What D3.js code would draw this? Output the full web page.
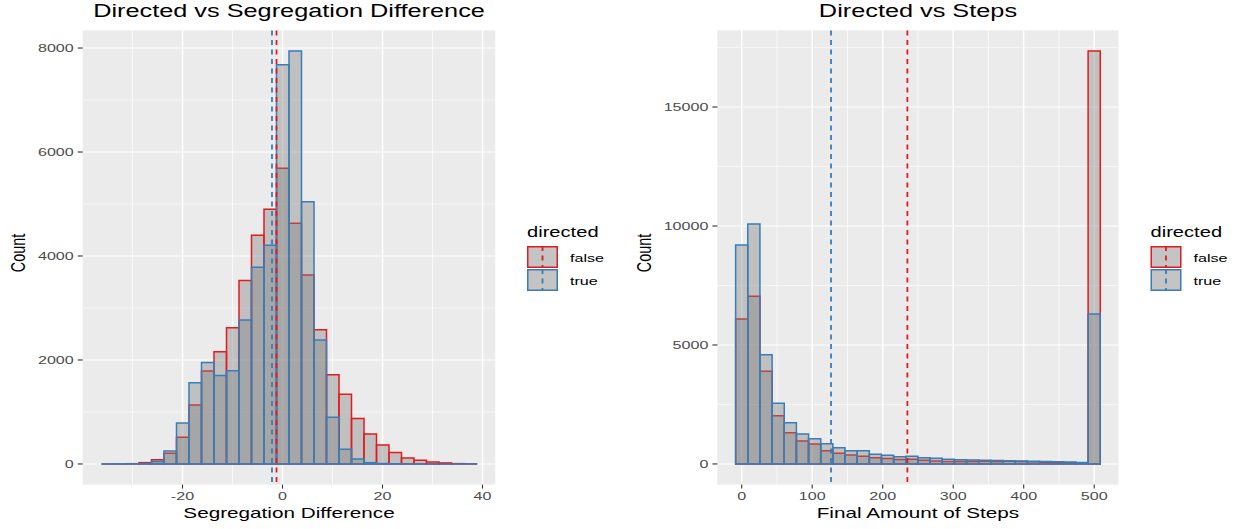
<!DOCTYPE html>
<html>
<head>
<meta charset="utf-8">
<script src="https://cdn.jsdelivr.net/npm/d3@7"></script>
<style>
  body { margin: 0; background: #fff; }
  svg { display: block; }
  text { font-family: "Liberation Sans", Arial, Helvetica, sans-serif; }
</style>
</head>
<body>
<div id="chart"></div>
<script>
// histogram counts, 30 bins each (false = not directed, true = directed)
var segStart = -36.2, segWidth = 2.5;
var segFalse = [0, 0, 5, 25, 80, 205, 515, 1135, 1790, 2160, 2620, 3530, 4400, 4900, 5690,
                4630, 3635, 2580, 1715, 1340, 872, 577, 365, 218, 115, 70, 38, 20, 6, 2];
var segTrue  = [0, 2, 3, 8, 45, 250, 790, 1560, 1950, 1700, 1795, 2770, 3785, 4205, 7680,
                7942, 5045, 2385, 897, 282, 96, 25, 8, 4, 1, 0, 0, 0, 0, 1];
var segMeans = {false: -1.2, true: -2.1};
var segXTicks = [-20, 0, 20, 40];
var segYTicks = [0, 2000, 4000, 6000, 8000];

var stepStart = -250 / 29, stepWidth = 500 / 29;
var stepFalse = [6090, 7043, 3893, 2030, 1316, 966, 840, 560, 448, 378, 322, 266, 224, 182, 196,
                 154, 126, 98, 100, 100, 110, 100, 110, 100, 90, 70, 60, 50, 40, 17353];
var stepTrue  = [9198, 10080, 4591, 2549, 1736, 1260, 1064, 854, 686, 560, 560, 406, 364, 308, 322,
                 266, 238, 196, 180, 170, 160, 150, 130, 120, 110, 100, 90, 80, 60, 6300];
var stepMeans = {false: 235, true: 126.7};
var stepXTicks = [0, 100, 200, 300, 400, 500];
var stepYTicks = [0, 5000, 10000, 15000];

var legendLabels = ["false", "true"];
var colors = {false: "#E41A1C", true: "#377EB8"};

var W = 1238, H = 529;
var SX = 1.15, SY = 0.8;   // the reference text is stretched a bit horizontally

var svg = d3.select("#chart").append("svg").attr("width", W).attr("height", H);

function label(g, x, y, str, size, anchor, fill, rot) {
  return g.append("text")
    .attr("transform", "translate(" + x + "," + y + ") scale(" + SX + "," + SY + ")" + (rot ? " rotate(-90)" : ""))
    .attr("text-anchor", anchor)
    .attr("font-size", size)
    .attr("fill", fill)
    .text(str);
}

function panel(opts) {
  var g = svg.append("g");
  var left = opts.left, right = opts.right, top = 30.4, bottom = 484.6;
  var n = opts.falseVals.length;
  var lo = opts.start, hi = opts.start + n * opts.width;
  var pad = (hi - lo) * 0.05;
  var x = d3.scaleLinear().domain([lo - pad, hi + pad]).range([left, right]);
  var ymax = d3.max(opts.falseVals.concat(opts.trueVals));
  var y = d3.scaleLinear().domain([-0.05 * ymax, 1.05 * ymax]).range([bottom, top]);

  g.append("rect").attr("x", left).attr("y", top)
    .attr("width", right - left).attr("height", bottom - top).attr("fill", "#EBEBEB");

  // minor grid halfway between majors
  var xt = opts.xTicks, yt = opts.yTicks;
  var xStep = xt[1] - xt[0], yStep = yt[1] - yt[0];
  var xMinor = d3.range(xt[0] - xStep / 2, xt[xt.length - 1] + xStep, xStep)
    .filter(function(v) { return x(v) > left && x(v) < right; });
  var yMinor = d3.range(yt[0] - yStep / 2, yt[yt.length - 1] + yStep, yStep)
    .filter(function(v) { return y(v) > top && y(v) < bottom; });

  g.selectAll(".xminor").data(xMinor).enter().append("line")
    .attr("x1", x).attr("x2", x).attr("y1", top).attr("y2", bottom)
    .attr("stroke", "#fff").attr("stroke-width", 0.7);
  g.selectAll(".yminor").data(yMinor).enter().append("line")
    .attr("y1", y).attr("y2", y).attr("x1", left).attr("x2", right)
    .attr("stroke", "#fff").attr("stroke-width", 0.55);
  g.selectAll(".xmajor").data(xt).enter().append("line")
    .attr("x1", x).attr("x2", x).attr("y1", top).attr("y2", bottom)
    .attr("stroke", "#fff").attr("stroke-width", 1.5);
  g.selectAll(".ymajor").data(yt).enter().append("line")
    .attr("y1", y).attr("y2", y).attr("x1", left).attr("x2", right)
    .attr("stroke", "#fff").attr("stroke-width", 1.1);

  // bars: false first, true drawn on top
  [["false", opts.falseVals], ["true", opts.trueVals]].forEach(function(s) {
    g.append("g").selectAll("path").data(s[1]).enter().append("path")
      .attr("d", function(d, i) {
        var x0 = x(opts.start + i * opts.width), x1 = x(opts.start + (i + 1) * opts.width);
        return "M" + x0 + "," + y(0) + "V" + y(d) + "H" + x1 + "V" + y(0) + "Z";
      })
      .attr("fill", "#808080").attr("fill-opacity", 0.4)
      .attr("stroke", colors[s[0]]).attr("stroke-width", 1.5);
  });

  ["false", "true"].forEach(function(k) {
    g.append("line")
      .attr("x1", x(opts.means[k])).attr("x2", x(opts.means[k]))
      .attr("y1", top).attr("y2", bottom)
      .attr("stroke", colors[k]).attr("stroke-width", 1.8)
      .attr("stroke-dasharray", "5,4.5");
  });

  // axes
  xt.forEach(function(v) {
    g.append("line").attr("x1", x(v)).attr("x2", x(v)).attr("y1", bottom).attr("y2", bottom + 4)
      .attr("stroke", "#333").attr("stroke-width", 1.1);
    label(g, x(v), 500, v, 14, "middle", "#4D4D4D");
  });
  yt.forEach(function(v) {
    g.append("line").attr("x1", left - 5).attr("x2", left).attr("y1", y(v)).attr("y2", y(v))
      .attr("stroke", "#333").attr("stroke-width", 1.1);
    label(g, left - 9, y(v) + 4, v, 14, "end", "#4D4D4D");
  });

  label(g, (left + right) / 2, 16.5, opts.title, 22, "middle", "#000");
  label(g, (left + right) / 2, 518, opts.xTitle, 18, "middle", "#000");
  label(g, opts.countX, 253, "Count", 18, "middle", "#000", true);

  // legend
  var lx = opts.legendX;
  label(g, lx, 236.5, "directed", 17.5, "start", "#000");
  legendLabels.forEach(function(k, i) {
    var ky = 246 + i * 23;
    g.append("rect").attr("x", lx).attr("y", ky).attr("width", 31).attr("height", 22).attr("fill", "#F2F2F2");
    g.append("rect").attr("x", lx + 0.75).attr("y", ky + 0.75).attr("width", 29.5).attr("height", 20.5)
      .attr("fill", "#808080").attr("fill-opacity", 0.4)
      .attr("stroke", colors[k]).attr("stroke-width", 1.5);
    g.append("line").attr("x1", lx + 15.5).attr("x2", lx + 15.5).attr("y1", ky).attr("y2", ky + 22)
      .attr("stroke", colors[k]).attr("stroke-width", 1.8).attr("stroke-dasharray", "5,4.5");
    label(g, lx + 43, ky + 15.5, k, 14, "start", "#000");
  });
}

panel({
  left: 82.75, right: 495.25, start: segStart, width: segWidth,
  falseVals: segFalse, trueVals: segTrue, means: segMeans,
  xTicks: segXTicks, yTicks: segYTicks,
  title: "Directed vs Segregation Difference", xTitle: "Segregation Difference",
  countX: 25, legendX: 527
});

panel({
  left: 717.4, right: 1118.5, start: stepStart, width: stepWidth,
  falseVals: stepFalse, trueVals: stepTrue, means: stepMeans,
  xTicks: stepXTicks, yTicks: stepYTicks,
  title: "Directed vs Steps", xTitle: "Final Amount of Steps",
  countX: 651, legendX: 1150.5
});
</script>
</body>
</html>
